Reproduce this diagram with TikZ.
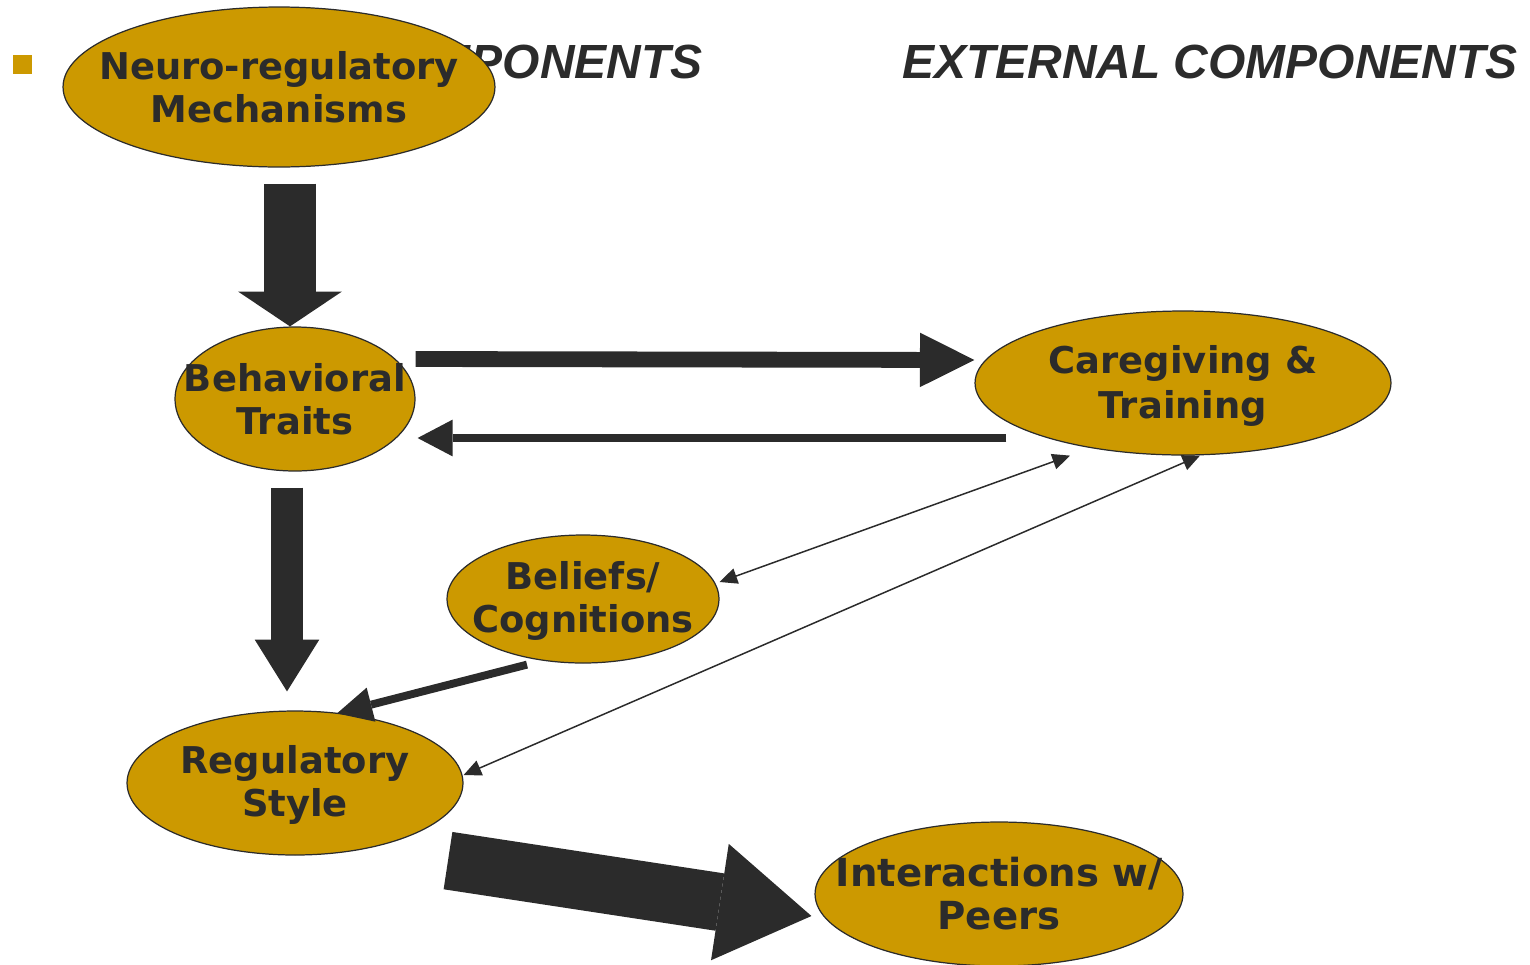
\documentclass[tikz,border=0pt]{standalone}
\usepackage{fontspec}
\setmainfont{DejaVu Sans}
\newfontfamily\headfont{Liberation Sans}
\usetikzlibrary{shapes.geometric,arrows.meta,calc}
\definecolor{gold}{HTML}{CC9900}
\definecolor{ink}{HTML}{2B2B2B}
\begin{document}
\begin{tikzpicture}[x=0.02cm,y=-0.02cm,
 ell/.style={ellipse,draw=ink,line width=0.7pt,fill=gold,inner sep=0pt},
 txt/.style={text=ink,font=\bfseries\fontsize{21}{24.4}\selectfont,align=center,inner sep=0pt},
 head/.style={text=ink,font=\headfont\bfseries\itshape\fontsize{27.3}{30}\selectfont,inner sep=0pt},
 dbl/.style={draw=ink,line width=0.85pt,{Triangle[length=10pt,width=9pt]}-{Triangle[length=10pt,width=9pt]}},
 blk/.style n args={3}{draw=ink,line width=#1,-{Triangle[length=#2,width=#3,line width=0pt]}},
]
\useasboundingbox (0,0) rectangle (1530,964);
\fill[gold] (13,55) rectangle (32,74);
\node[head,anchor=base east] (hint) at (703,78) {INTERNAL COMPONENTS};
\node[head,anchor=base east] (hext) at (1518,78) {EXTERNAL COMPONENTS};

\node[ell,minimum width=8.64cm,minimum height=3.2cm,label={[txt]center:Neuro-regulatory\\Mechanisms}] (neuro) at (279,87) {};
\node[ell,minimum width=4.8cm,minimum height=2.88cm,label={[txt]center:Behavioral\\Traits}] (behav) at (295,399) {};
\node[ell,minimum width=8.32cm,minimum height=2.88cm,label={[txt,yshift=-0.06cm]center:Caregiving \&\\[1pt]Training}] (care) at (1183,383) {};
\node[ell,minimum width=5.44cm,minimum height=2.56cm,label={[txt,yshift=-0.04cm]center:Beliefs/\\Cognitions}] (belief) at (583,599) {};
\node[ell,minimum width=6.72cm,minimum height=2.88cm,label={[txt,yshift=-0.04cm]center:Regulatory\\Style}] (reg) at (295,783) {};
\node[ell,minimum width=7.36cm,minimum height=2.88cm,label={[txt,font=\bfseries\fontsize{22}{24.4}\selectfont]center:Interactions w/\\Peers}] (inter) at (999,894) {};

\draw[blk={29.5pt}{19.8pt}{59pt}] ($(neuro.south)+(11,16)$) -- ($(behav.north)+(-5,0)$);
\draw[blk={18.7pt}{29.5pt}{36.8pt}] ($(behav.south)+(-8,16)$) -- ($(reg.north)+(-8,-19)$);
\draw[blk={9pt}{31pt}{31pt}] ($(behav.east)+(0,-40)$) -- ($(care.west)+(0,-23)$);
\draw[blk={5pt}{20pt}{21pt}] ($(care.west)+(32,55)$) -- ($(behav.east)+(2,39)$);
\draw[dbl] ($(belief.east)+(0,-17)$) -- ($(care.south)+(-113,0)$);
\draw[dbl] ($(reg.east)+(0,-8)$) -- ($(care.south)+(17,0)$);
\draw[blk={4.5pt}{20pt}{20pt}] ($(belief.south)+(-56,1)$) -- ($(reg.north)+(42,3)$);
\draw[blk={33pt}{52.7pt}{67pt}] ($(reg.south)+(153,5)$) -- ($(inter.west)+(-3,22)$);
\end{tikzpicture}
\end{document}
